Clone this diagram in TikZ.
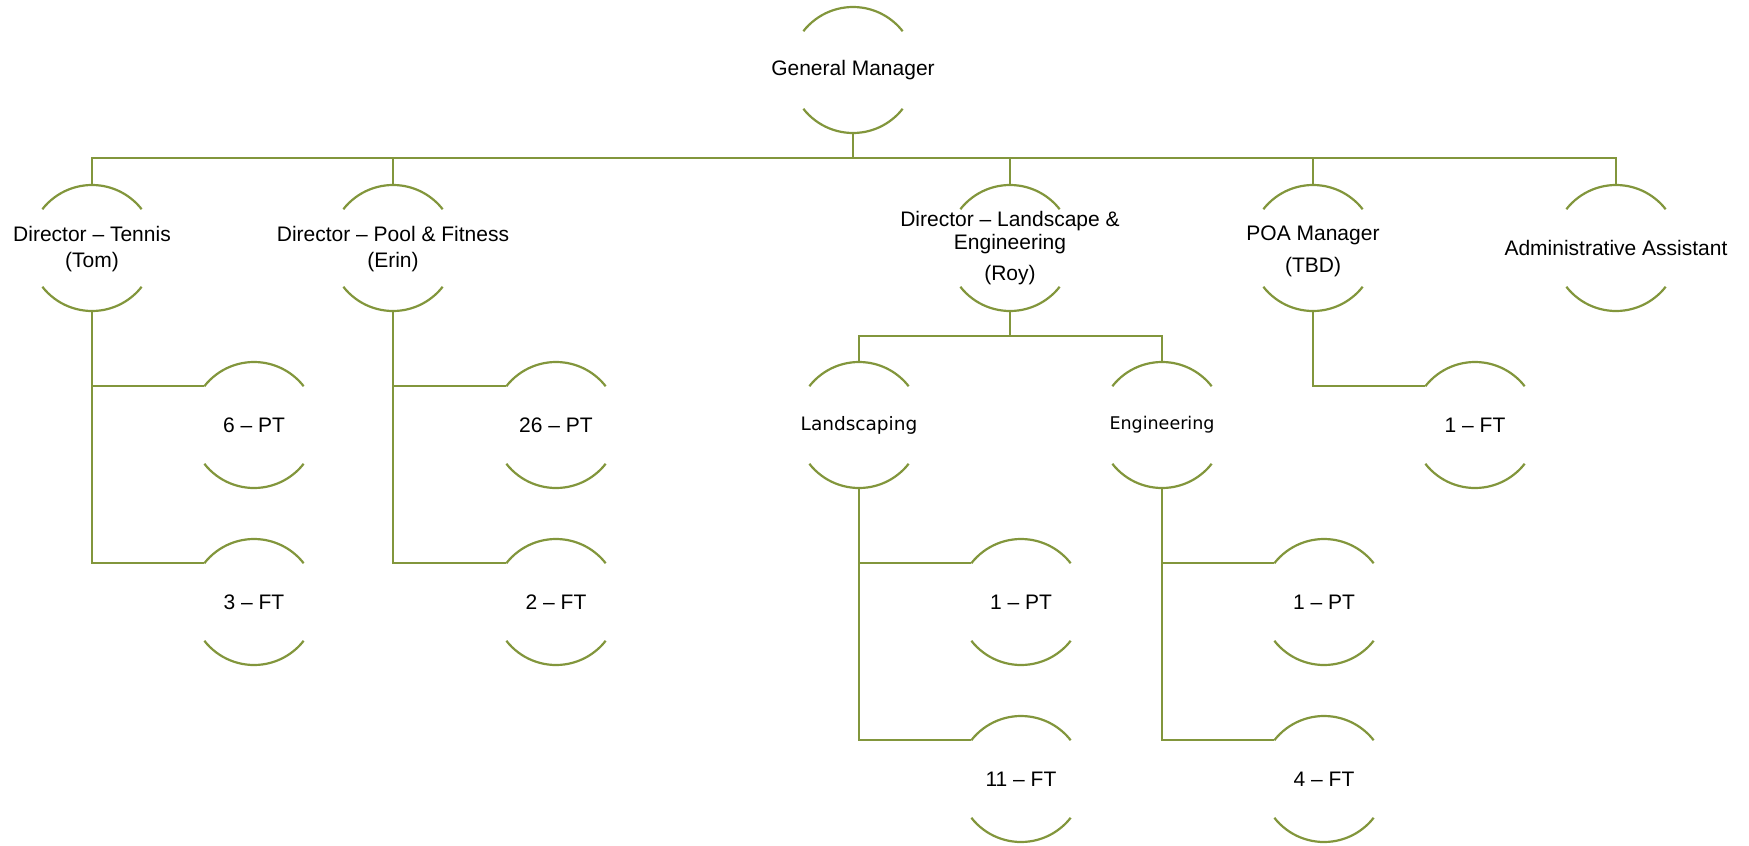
\documentclass[tikz,border=0pt]{standalone}
\usepackage{fontspec}
\setmainfont{Liberation Sans}
\newfontfamily\dvs{DejaVu Sans}
\definecolor{orgline}{RGB}{130,150,60}
\tikzset{
  link/.style={draw=orgline, line width=2.2pt},
  unit/.style={circle, minimum size=126pt, inner sep=0pt, outer sep=0pt},
  lbl/.style={font=\fontsize{21}{23}\selectfont, align=center, inner sep=0pt},
}
\newcommand\orgnode[5][0]{%
  \node[unit] (#2) at (#3,-#4) {};
  \node[lbl, yshift=-#1pt] (#2-t) at (#2.center) {#5};
  \draw[link] (#2.142) arc[start angle=142,end angle=38,radius=63pt];
  \draw[link] (#2.218) arc[start angle=218,end angle=322,radius=63pt];
}
\begin{document}
\begin{tikzpicture}[x=1pt,y=1pt]
\useasboundingbox (0,0) rectangle (1749,-846);
\orgnode{gm}{853}{70}{General Manager}
\orgnode[1]{tennis}{92}{248}{Director – Tennis\\[3pt](Tom)}
\orgnode[1]{pool}{393}{248}{Director – Pool \& Fitness\\[3pt](Erin)}
\orgnode{roy}{1010}{248}{Director – Landscape \&\\Engineering\\[8pt](Roy)}
\orgnode[3]{poa}{1313}{248}{POA Manager\\[9pt](TBD)}
\orgnode{admin}{1616}{248}{Administrative Assistant}
\orgnode{pt6}{254}{425}{6 – PT}
\orgnode{pt26}{556}{425}{26 – PT}
\orgnode{land}{859}{425}{{\dvs\fontsize{18.5}{22}\selectfont Landscaping}}
\orgnode{eng}{1162}{425}{{\dvs\fontsize{17.5}{22}\selectfont Engineering}}
\orgnode{ft1}{1475}{425}{1 – FT}
\orgnode{ft3}{254}{602}{3 – FT}
\orgnode{ft2}{556}{602}{2 – FT}
\orgnode{lpt1}{1021}{602}{1 – PT}
\orgnode{ept1}{1324}{602}{1 – PT}
\orgnode{ft11}{1021}{779}{11 – FT}
\orgnode{ft4}{1324}{779}{4 – FT}
% top level
\foreach \n in {tennis,pool,roy,poa,admin}
  \draw[link] (gm.south) -- ++(0,-25) -| (\n.north);
% tennis and pool
\draw[link] (tennis.south) |- (pt6.142);
\draw[link] (tennis.south) |- (ft3.142);
\draw[link] (pool.south) |- (pt26.142);
\draw[link] (pool.south) |- (ft2.142);
% landscape & engineering
\draw[link] (roy.south) -- ++(0,-25) -| (land.north);
\draw[link] (roy.south) -- ++(0,-25) -| (eng.north);
\draw[link] (land.south) |- (lpt1.142);
\draw[link] (land.south) |- (ft11.142);
\draw[link] (eng.south) |- (ept1.142);
\draw[link] (eng.south) |- (ft4.142);
% POA
\draw[link] (poa.south) |- (ft1.142);
\end{tikzpicture}
\end{document}
